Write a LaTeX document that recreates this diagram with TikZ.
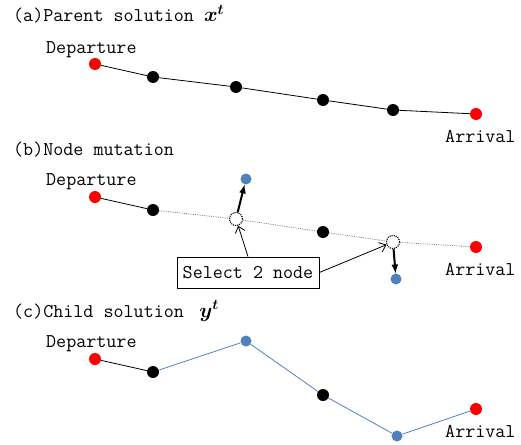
\documentclass[tikz,border=0pt]{standalone}
\usepackage{amsmath}
\usepackage{fontspec}
\usepackage{xcolor}
\usepackage{tikz}
\usetikzlibrary{positioning,shapes,arrows,arrows.meta}
\definecolor{mutblue}{RGB}{79,129,189}

\begin{document}
\begin{tikzpicture}[
  x=1pt, y=-1pt,
  font=\ttfamily\fontsize{19.5}{22}\selectfont,
  endnode/.style={circle,fill=red,inner sep=0,minimum size=12pt},
  midnode/.style={circle,fill=black,inner sep=0,minimum size=12pt},
  newnode/.style={circle,fill=mutblue,inner sep=0,minimum size=11pt},
  selnode/.style={circle,draw,densely dotted,line width=1.1pt,inner sep=0,minimum size=13pt},
  lbl/.style={anchor=base west,inner sep=0}
    ]

\useasboundingbox (0,0) rectangle (521,444);

% (a) parent
\node[lbl] (ta) at (13,22) {(a)Parent solution $\boldsymbol{x}^{\boldsymbol{t}}$};
\node[lbl] (da) at (46,53) {Departure};
\node[lbl] (aa) at (445,142) {Arrival};
\node[endnode] (a0) at (95,64) {};
\node[midnode] (a1) at (153,77) {};
\node[midnode] (a2) at (236,87) {};
\node[midnode] (a3) at (323,100) {};
\node[midnode] (a4) at (393,110) {};
\node[endnode] (a5) at (476,114) {};
\path[draw,line width=0.8pt] (a0) -- (a1) -- (a2) -- (a3) -- (a4) -- (a5);

% (b) mutation
\node[lbl] (tb) at (13,155) {(b)Node mutation};
\node[lbl] (db) at (46,185) {Departure};
\node[lbl] (ab) at (445,275) {Arrival};
\node[endnode] (b0) at (95,197) {};
\node[midnode] (b1) at (153,210) {};
\node[selnode] (b2) at (236,219) {};
\node[midnode] (b3) at (323,232) {};
\node[selnode] (b4) at (393,242) {};
\node[endnode] (b5) at (476,247) {};
\node[newnode] (n2) at (246,179) {};
\node[newnode] (n4) at (396,279) {};
\node[draw,line width=0.8pt,minimum width=142pt,minimum height=31pt] (sel) at (248,272.5) {Select 2 node};
\path[draw,line width=0.8pt] (b0) -- (b1);
\path[draw,gray,densely dotted,line width=0.8pt] (b1) -- (b2) -- (b3) -- (b4) -- (b5);
\path[line width=2pt] (b2) edge[-latex] (n2)
(b4) edge[-latex] (n4);
\path[line width=0.8pt] (sel.north) edge[-{Straight Barb[length=6pt,width=10pt]}] (b2)
(sel.east) edge[-{Straight Barb[length=6pt,width=10pt]}] (b4);

% (c) child
\node[lbl] (tc) at (13,317) {(c)Child solution \;$\boldsymbol{y}^{\boldsymbol{t}}$};
\node[lbl] (dc) at (46,347) {Departure};
\node[lbl] (ac) at (445,437) {Arrival};
\node[endnode] (c0) at (95,359) {};
\node[midnode] (c1) at (153,372) {};
\node[newnode] (c2) at (246,341) {};
\node[midnode] (c3) at (323,395) {};
\node[newnode] (c4) at (397,436) {};
\node[endnode] (c5) at (476,409) {};
\path[draw,line width=0.8pt] (c0) -- (c1);
\path[draw,mutblue,line width=0.8pt] (c1) -- (c2) -- (c3) -- (c4) -- (c5);

\end{tikzpicture}
\end{document}
